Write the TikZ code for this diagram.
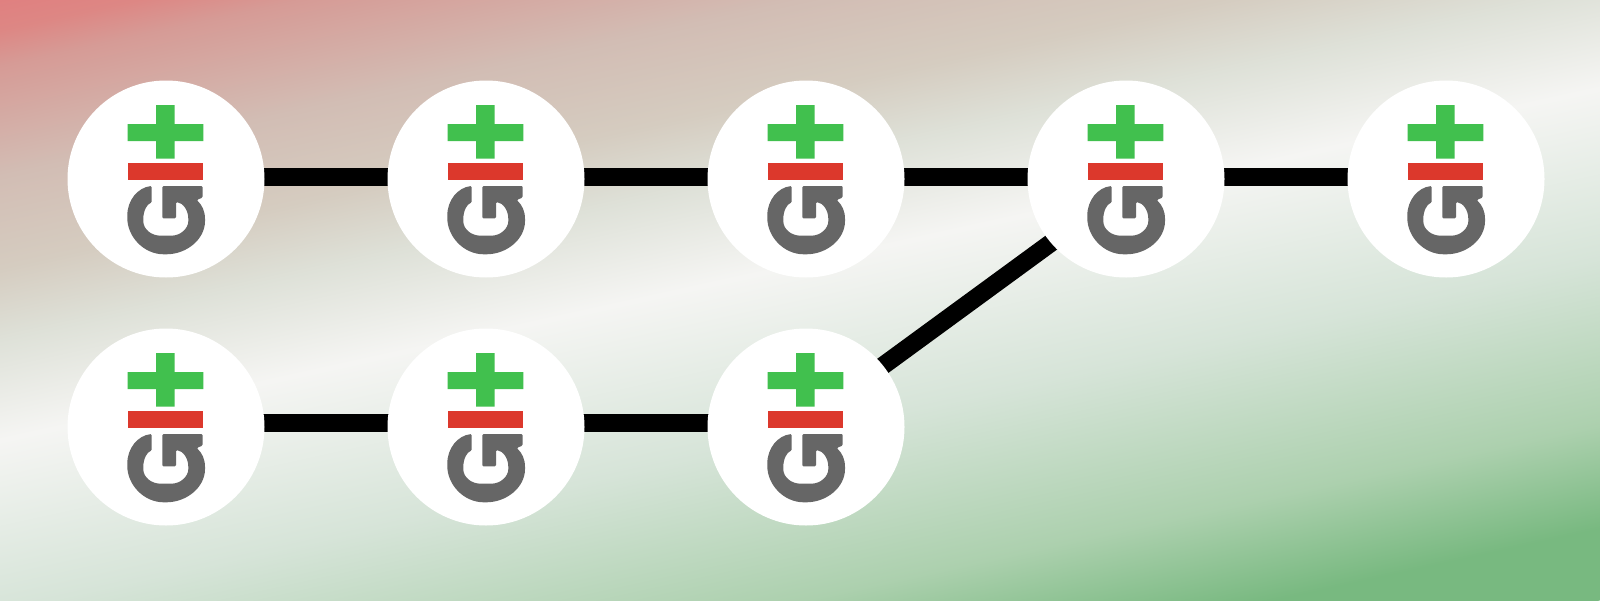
\documentclass[tikz,border=0pt]{standalone}
\pgfdeclarelayer{grad}
\pgfdeclarelayer{links}
\pgfsetlayers{grad,links,main}
\pgfdeclareverticalshading{bggrad}{100bp}{rgb(0bp)=(.471,.725,.502);rgb(28.78bp)=(.471,.725,.502);rgb(34.245bp)=(.675,.816,.682);rgb(42.96bp)=(.839,.894,.847);rgb(51.89bp)=(.961,.961,.953);rgb(57.15bp)=(.871,.882,.847);rgb(60.925bp)=(.835,.8,.753);rgb(65.755bp)=(.824,.741,.706);rgb(71.535bp)=(.839,.608,.588);rgb(73.4bp)=(.867,.529,.518);rgb(75bp)=(.878,.502,.502);rgb(100bp)=(.878,.502,.502)}
\definecolor{plusgreen}{HTML}{41C04E}
\definecolor{minusred}{HTML}{DC382C}
\definecolor{icongray}{HTML}{666666}
\tikzset{
 hub/.style={circle,fill=white,inner sep=0pt,outer sep=0pt,minimum size=98.5pt},
 link/.style={draw=black,line width=9pt},
 icon/.pic={
  \fill[plusgreen] (-38.3,-55) rectangle (37.3,-38) (-10,-74) rectangle (8.7,-20.3);
  \fill[minusred] (-38.3,-15.7) rectangle (37.3,1.3);
  \fill[icongray,rounded corners=0.6]
   (-14.3,7) .. controls (-28,8.5) and (-38.7,21) .. (-38.7,37.7)
   .. controls (-38.7,58) and (-22,75.3) .. (-1,75.3)
   .. controls (21,75.3) and (39,60) .. (39,41)
   .. controls (39,32) and (36,26) .. (30.7,21)
   -- (36.7,18.5) -- (36.7,7) -- (-3.7,7) -- (-3.7,39.3) -- (10,39.3) -- (10,23)
   .. controls (17,24) and (22.3,31) .. (22.3,41)
   .. controls (22.3,49) and (15,56.7) .. (4,56.7)
   -- (-4,56.7)
   .. controls (-15,56.7) and (-22.7,50) .. (-22.7,41)
   .. controls (-22.7,32) and (-19,25) .. (-14.3,23.7) -- cycle;
 }
}
\begin{document}
\begin{tikzpicture}[x=0.5pt,y=-0.5pt]
\useasboundingbox (0,0) rectangle (1600,600);
\begin{pgfonlayer}{grad}
 \begin{scope}
  \clip (0,0) rectangle (1600,600);
  \shade[shading=bggrad,transform canvas={rotate=12.4}] (-400,0) rectangle (2100,930);
 \end{scope}
\end{pgfonlayer}
\node[hub] (a1) at (166,179) {};
\node[hub] (a2) at (486,179) {};
\node[hub] (a3) at (806,179) {};
\node[hub] (a4) at (1126,179) {};
\node[hub] (a5) at (1446,179) {};
\node[hub] (b1) at (166,427) {};
\node[hub] (b2) at (486,427) {};
\node[hub] (b3) at (806,427) {};
\foreach \p in {(166,179),(486,179),(806,179),(1126,179),(1446,179),(166,427),(486,427),(806,427)}
  \pic at \p {icon};
\begin{pgfonlayer}{links}
 \draw[link] ([yshift=1pt]a1.center) -- ([yshift=1pt]a2.center);
 \draw[link] ([yshift=1pt]a2.center) -- ([yshift=1pt]a3.center);
 \draw[link] ([yshift=1pt]a3.center) -- ([yshift=1pt]a4.center);
 \draw[link] ([yshift=1pt]a4.center) -- ([yshift=1pt]a5.center);
 \draw[link] ([yshift=2pt]b1.center) -- ([yshift=2pt]b2.center);
 \draw[link] ([yshift=2pt]b2.center) -- ([yshift=2pt]b3.center);
 \draw[link] ([yshift=2.5pt]b3.center) -- ([yshift=-4.5pt]a4.center);
\end{pgfonlayer}
\end{tikzpicture}
\end{document}
